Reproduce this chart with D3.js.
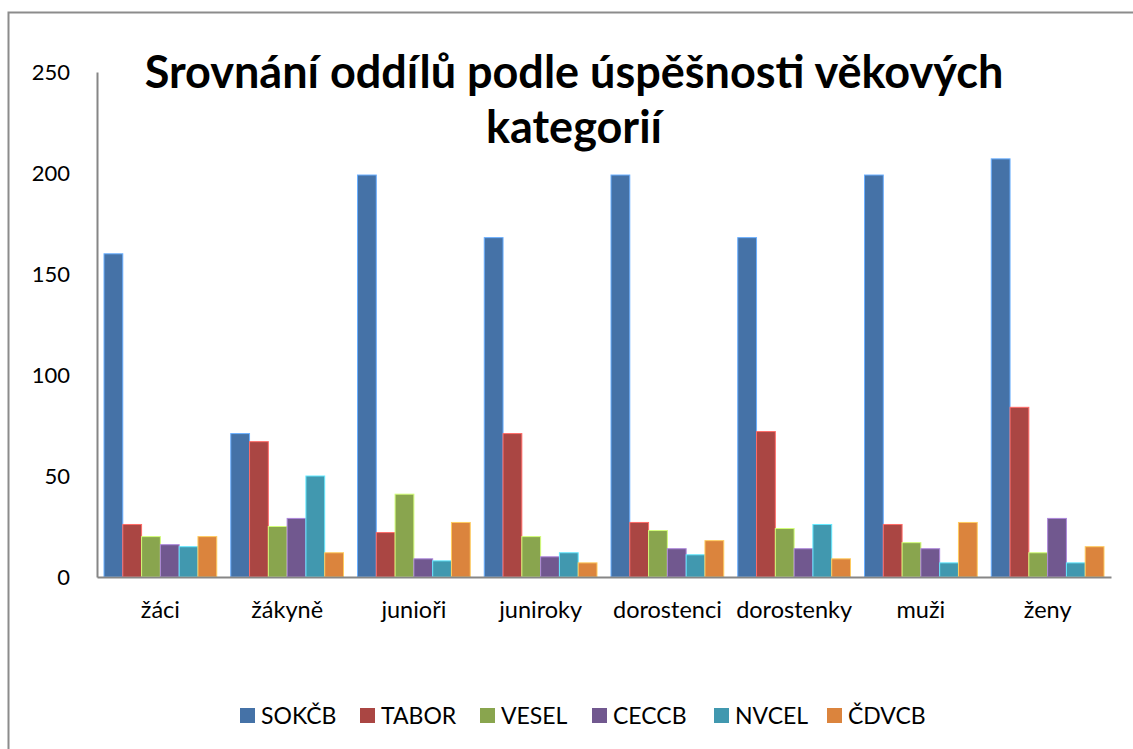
<!DOCTYPE html>
<html>
<head>
<meta charset="utf-8">
<script src="https://cdn.jsdelivr.net/npm/d3@7"></script>
<style>
  body { margin: 0; background: #fff; }
  svg { display: block; font-family: Lato, "Open Sans", sans-serif; }
</style>
</head>
<body>
<svg class="chart" width="1133" height="749"></svg>
<script>

const categories = ['žáci', 'žákyně', 'junioři', 'juniroky', 'dorostenci', 'dorostenky', 'muži', 'ženy'];

const series = ['SOKČB', 'TABOR', 'VESEL', 'CECCB', 'NVCEL', 'ČDVCB'];

const colors = ['#4572A7', '#AA4643', '#89A54E', '#71588F', '#4198AF', '#DB843D'];

// values per series, in the order of categories
const sokcb = [160, 71, 199, 168, 199, 168, 199, 207];
const tabor = [26, 67, 22, 71, 27, 72, 26, 84];
const vesel = [20, 25, 41, 20, 23, 24, 17, 12];
const ceccb = [16, 29, 9, 10, 14, 14, 14, 29];
const nvcel = [15, 50, 8, 12, 11, 26, 7, 7];
const cdvcb = [20, 12, 27, 7, 18, 9, 27, 15];

const yTicks = [0, 50, 100, 150, 200, 250];

const title = ['Srovnání oddílů podle úspěšnosti věkových', 'kategorií'];

const values = [sokcb, tabor, vesel, ceccb, nvcel, cdvcb];

const svg = d3.select('.chart');

// outer frame (clipped at right and bottom like the original)
svg.append('rect')
    .attr('x', 8.5).attr('y', 12.5)
    .attr('width', 1300).attr('height', 900)
    .attr('fill', 'none')
    .attr('stroke', '#8c8c8c')
    .attr('stroke-width', 2);

const plot = { left: 97, right: 1111, top: 72, bottom: 577 };

const x0 = d3.scaleBand()
    .domain(categories)
    .range([plot.left, plot.right]);

const x1 = d3.scaleBand()
    .domain(series)
    .range([7, x0.bandwidth() - 7]);

const y = d3.scaleLinear()
    .domain([0, 250])
    .range([plot.bottom, plot.top]);

// bars
const groups = svg.append('g')
    .selectAll('g')
    .data(categories)
    .join('g')
    .attr('transform', d => `translate(${x0(d)},0)`);

groups.selectAll('rect')
    .data((cat, ci) => series.map((s, si) => ({ s, si, v: values[si][ci] })))
    .join('rect')
    .attr('x', d => x1(d.s))
    .attr('y', d => y(d.v))
    .attr('width', x1.bandwidth())
    .attr('height', d => y(0) - y(d.v))
    .attr('fill', d => colors[d.si])
    .attr('stroke', d => d3.color(colors[d.si]).brighter(1.2))
    .attr('stroke-width', 1);

// y axis
const yAxis = d3.axisLeft(y)
    .tickValues(yTicks)
    .tickSize(0)
    .tickPadding(27);

svg.append('g')
    .attr('transform', `translate(${plot.left},0)`)
    .call(yAxis)
    .call(g => g.select('.domain').attr('stroke', '#868686').attr('stroke-width', 2))
    .call(g => g.selectAll('text')
        .attr('font-family', 'Lato, sans-serif')
        .attr('font-size', 22)
        .attr('fill', '#000'));

// x axis
const xAxis = d3.axisBottom(x0).tickSize(0).tickPadding(24);

svg.append('g')
    .attr('transform', `translate(0,${plot.bottom})`)
    .call(xAxis)
    .call(g => g.select('.domain').attr('stroke', '#868686').attr('stroke-width', 2))
    .call(g => g.selectAll('text')
        .attr('font-family', 'Lato, sans-serif')
        .attr('font-size', 23.5)
        .attr('fill', '#000'));

// title
svg.append('g')
    .selectAll('text')
    .data(title)
    .join('text')
    .attr('x', 574)
    .attr('y', (d, i) => 88 + i * 55)
    .attr('text-anchor', 'middle')
    .attr('font-size', 45)
    .attr('font-weight', 'bold')
    .attr('fill', '#000')
    .text(d => d);

// legend
const legendX = [240, 360, 480, 592, 714, 827];

const legend = svg.append('g')
    .selectAll('g')
    .data(series)
    .join('g')
    .attr('transform', (d, i) => `translate(${legendX[i]},708)`);

legend.append('rect')
    .attr('width', 15).attr('height', 15)
    .attr('fill', (d, i) => colors[i]);

legend.append('text')
    .attr('x', 21)
    .attr('y', 16)
    .attr('font-size', 23)
    .attr('fill', '#000')
    .text(d => d);

</script>
</body>
</html>
